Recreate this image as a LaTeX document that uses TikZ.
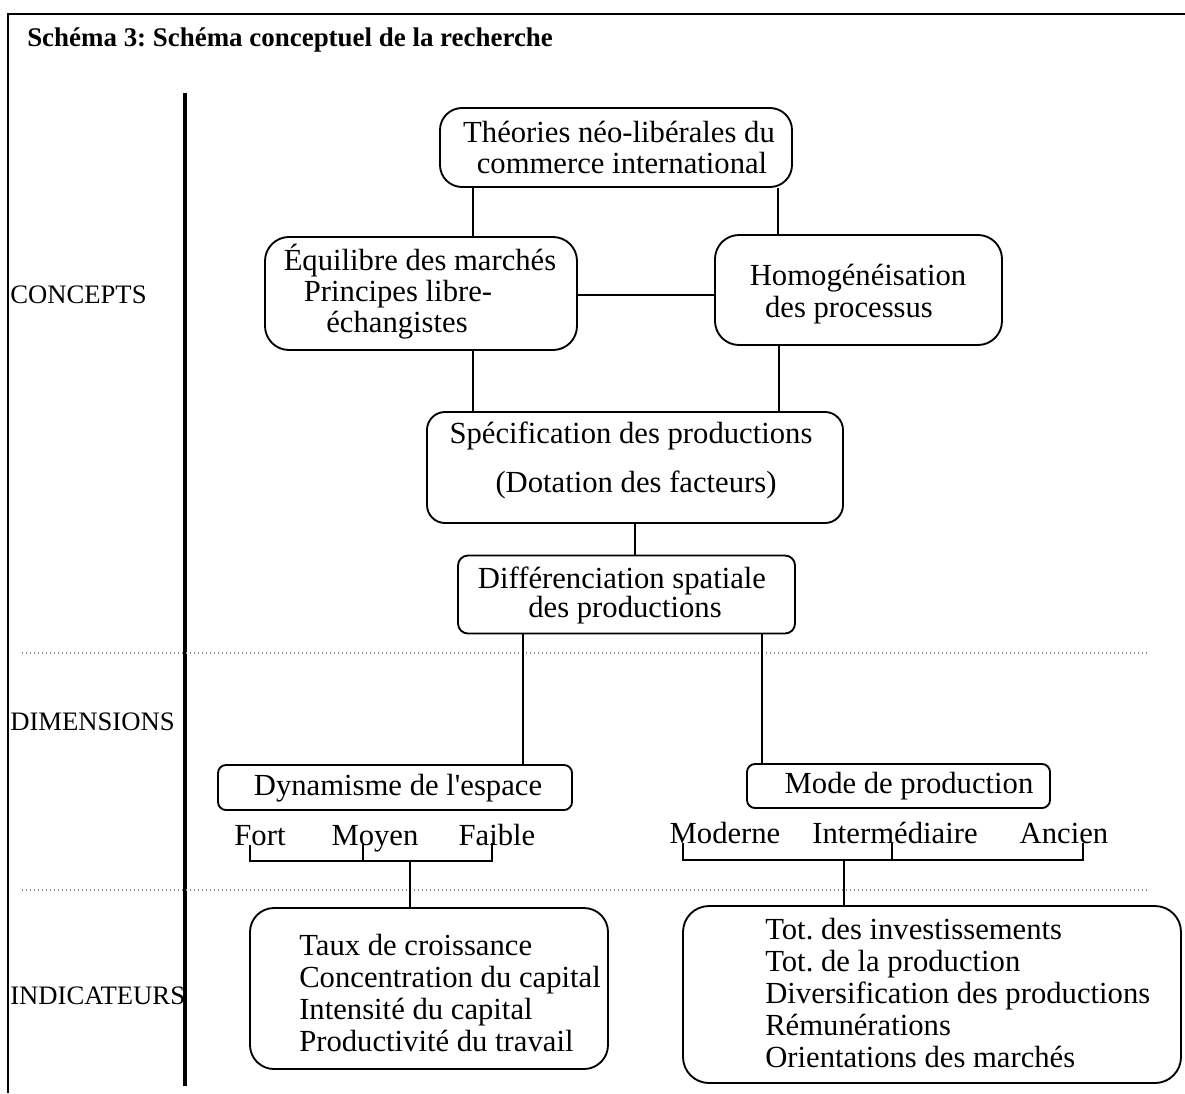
\documentclass[tikz,border=0pt]{standalone}
\usepackage{fontspec}
\setmainfont{Liberation Serif}
\frenchspacing
\begin{document}
\begin{tikzpicture}[x=0.75pt,y=-0.75pt,
  box/.style n args={3}{draw, line width=1.4pt, rounded corners=#3*0.75pt, minimum width=#1*0.75pt, minimum height=#2*0.75pt, inner sep=0pt},
  ln/.style={inner sep=0pt, text height=15.2pt, text depth=0pt, font=\fontsize{23}{24}\selectfont},
  lnw/.style={ln, anchor=west},
  lbl/.style={inner sep=0pt, anchor=west, text height=13.2pt, text depth=0pt, font=\fontsize{20}{22}\selectfont},
  conn/.style={line width=1.3pt},
  sep/.style={black!45, dotted, line width=1pt}
]
\useasboundingbox (0,0) rectangle (1185,1093);
% frame
\draw[line width=1.5pt] (8,1093) -- (8,14) -- (1185,14);
% title
\node[inner sep=0pt, anchor=west, text height=14pt, text depth=0pt, font=\fontsize{20.2}{24}\selectfont\bfseries] (title) at (27,37) {Schéma 3: Schéma conceptuel de la recherche};
% thick vertical line
\draw[line width=3pt] (185,93) -- (185,1086);
% level labels
\node[lbl] (lconc) at (10,295) {CONCEPTS};
\node[lbl] (ldim) at (10,722) {DIMENSIONS};
\node[lbl] (lind) at (10,996) {INDICATEURS};
% separators
\draw[sep] (22,653) -- (1150,653);
\draw[sep] (22,890) -- (1150,890);

% boxes
\node[box={352}{79}{22}] (theo) at (616,147.5) {};
\node[box={312}{113}{24}] (equi) at (421,293.5) {};
\node[box={287}{110}{24}] (homo) at (858.5,290) {};
\node[box={416}{111}{18}] (spec) at (635,467.5) {};
\node[box={337}{78}{10}] (diff) at (626.5,594.5) {};
\node[box={354}{45}{8}] (dyn) at (395,787.5) {};
\node[box={303}{44}{8}] (mode) at (898.5,786) {};
\node[box={358}{161}{24}] (indL) at (429,988.5) {};
\node[box={498}{177}{26}] (indR) at (932,994.5) {};

% box texts
\node[ln] (t1) at (619,132) {Théories néo-libérales du};
\node[ln] (t2) at (622,163) {commerce international};
\node[ln] (e1) at (420,260) {Équilibre des marchés};
\node[ln] (e2) at (398,291) {Principes libre-};
\node[ln] (e3) at (397,322) {échangistes};
\node[ln] (h1) at (858,275) {Homogénéisation};
\node[ln] (h2) at (849,307) {des processus};
\node[ln] (s1) at (631,433) {Spécification des productions};
\node[ln] (s2) at (636,482) {(Dotation des facteurs)};
\node[ln] (d1) at (622,578) {Différenciation spatiale};
\node[ln] (d2) at (625,607) {des productions};
\node[ln] (dy) at (398,785) {Dynamisme de l\textquotesingle espace};
\node[ln] (mo) at (909,783) {Mode de production};

% categories
\node[ln] (fort) at (260,835) {Fort};
\node[ln] (moyen) at (375,835) {Moyen};
\node[ln] (faible) at (497,835) {Faible};
\node[ln] (moderne) at (725,833) {Moderne};
\node[ln] (inter) at (895,833) {Intermédiaire};
\node[ln] (ancien) at (1064,833) {Ancien};

% indicators
\node[lnw] (a1) at (299,945) {Taux de croissance};
\node[lnw] (a2) at (299,977) {Concentration du capital};
\node[lnw] (a3) at (299,1009) {Intensité du capital};
\node[lnw] (a4) at (299,1041) {Productivité du travail};
\node[lnw] (b1) at (765,929) {Tot. des investissements};
\node[lnw] (b2) at (765,961) {Tot. de la production};
\node[lnw] (b3) at (765,993) {Diversification des productions};
\node[lnw] (b4) at (765,1025) {Rémunérations};
\node[lnw] (b5) at (765,1057) {Orientations des marchés};

% connectors
\draw[conn] (theo.south -| 473,0) -- (equi.north -| 473,0);
\draw[conn] (theo.south -| 778,0) -- (homo.north -| 778,0);
\draw[conn] (equi.east |- 0,295) -- (homo.west |- 0,295);
\draw[conn] (equi.south -| 473,0) -- (spec.north -| 473,0);
\draw[conn] (homo.south -| 779,0) -- (spec.north -| 779,0);
\draw[conn] (spec.south -| 635,0) -- (diff.north -| 635,0);
\draw[conn] (diff.south -| 523,0) -- (dyn.north -| 523,0);
\draw[conn] (diff.south -| 762,0) -- (mode.north -| 762,0);

% brackets
\coordinate (fk) at (250,845);
\coordinate (mk) at (363,843);
\coordinate (ak) at (492,843);
\coordinate (jl) at (410,861);
\draw[conn] (fk) |- (ak |- jl) -- (ak);
\draw[conn] (mk) -- (mk |- jl);
\draw[conn] (jl) -- (indL.north -| jl);

\coordinate (mok) at (683,843);
\coordinate (ink) at (892,843);
\coordinate (ank) at (1083,843);
\coordinate (jr) at (844,860);
\draw[conn] (mok) |- (ank |- jr) -- (ank);
\draw[conn] (ink) -- (ink |- jr);
\draw[conn] (jr) -- (indR.north -| jr);
\end{tikzpicture}
\end{document}
